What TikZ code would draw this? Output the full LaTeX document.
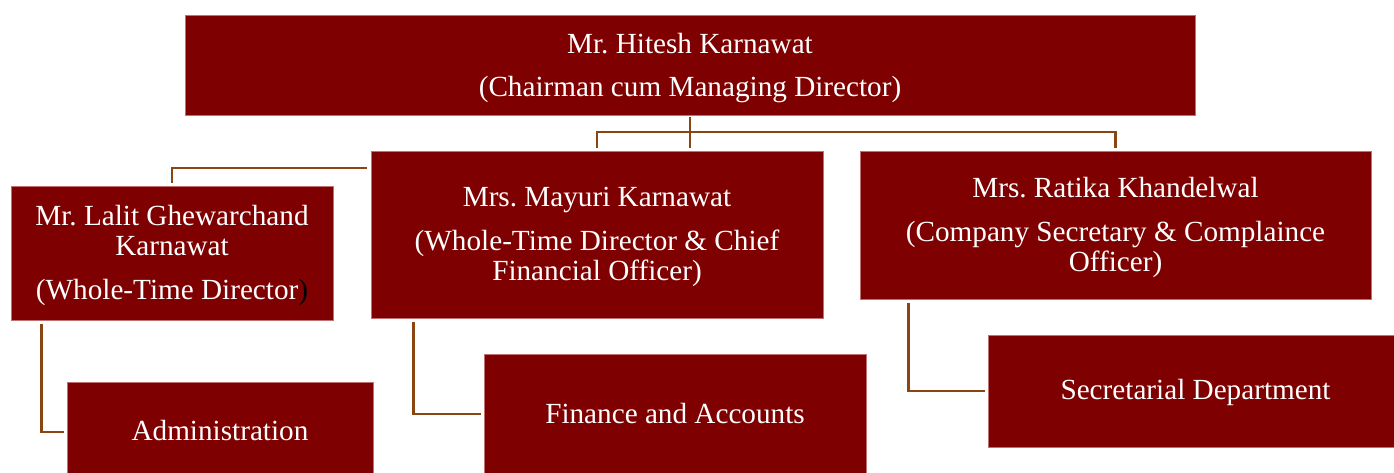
\documentclass[tikz,border=0pt]{standalone}
\usepackage{fontspec}
\setmainfont{Liberation Serif}
\frenchspacing
\definecolor{boxfill}{HTML}{7F0000}
\definecolor{boxline}{HTML}{C07070}
\definecolor{connline}{HTML}{8B4513}
\newcommand\boxtext[2]{\raisebox{0pt}[\dimexpr\height+#1\relax][\depth]{\begin{tabular}{@{}c@{}}#2\end{tabular}}}
\begin{document}
\begin{tikzpicture}[x=1pt,y=-1pt,
  orgbox/.style={rectangle, fill=boxfill, draw=boxline, line width=0.6pt, inner sep=0pt,
    text=white, font=\fontsize{29.2}{30}\selectfont},
  conn/.style={draw=connline, line width=2.5pt}]
\useasboundingbox (0,0) rectangle (1394,472);
\clip (0,0) rectangle (1394,472);
\node[orgbox, minimum width=1010pt, minimum height=100pt] (top) at (690,65)
  {\boxtext{8pt}{Mr. Hitesh Karnawat\\[13.5pt](Chairman cum Managing Director)}};
\node[orgbox, minimum width=322pt, minimum height=134pt] (lalit) at (172,253)
  {\boxtext{6pt}{Mr. Lalit Ghewarchand\\Karnawat\\[14pt](Whole-Time Director{\color{black})}}};
\node[orgbox, minimum width=452pt, minimum height=167pt] (mayuri) at (597,234.5)
  {\boxtext{5pt}{Mrs. Mayuri Karnawat\\[14pt](Whole-Time Director \& Chief\\Financial Officer)}};
\node[orgbox, minimum width=511pt, minimum height=148pt] (ratika) at (1115.5,225)
  {\boxtext{7pt}{Mrs. Ratika Khandelwal\\[14pt](Company Secretary \& Complaince\\Officer)}};
\node[orgbox, minimum width=306pt, minimum height=100pt] (admin) at (220,432)
  {\boxtext{4pt}{Administration}};
\node[orgbox, minimum width=382pt, minimum height=120pt] (finance) at (675,414)
  {\boxtext{6pt}{Finance and Accounts}};
\node[orgbox, minimum width=415pt, minimum height=112pt] (sec) at (1195.5,391)
  {\boxtext{4pt}{Secretarial Department}};
\coordinate (bus) at (690,132);
\coordinate (lalitend) at (367,168);
\draw[conn] ([yshift=-2pt]top.south) -- ([yshift=3pt]top.south |- mayuri.north);
\draw[conn] ([yshift=3pt]mayuri.north) |- (bus) -| ([yshift=3pt]ratika.north);
\draw[conn] ([yshift=3pt]lalit.north) |- (lalitend);
\draw[conn] ([xshift=31pt,yshift=-4pt]lalit.south west) |- ([xshift=-3pt]admin.west);
\draw[conn] ([xshift=43pt,yshift=-4pt]mayuri.south west) |- ([xshift=-3pt]finance.west);
\draw[conn] ([xshift=49pt,yshift=-4pt]ratika.south west) |- ([xshift=-3pt]sec.west);
\end{tikzpicture}
\end{document}
